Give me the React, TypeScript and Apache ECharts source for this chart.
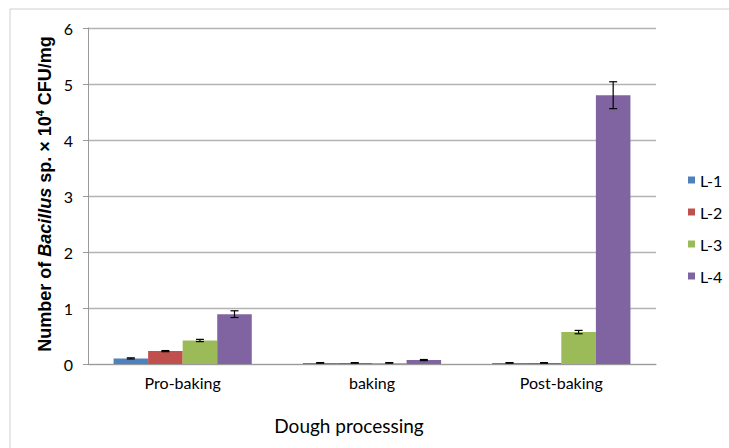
import React, { useEffect, useRef } from "react";
import * as echarts from "echarts";

const categories = ["Pro-baking", "baking", "Post-baking"];
const seriesNames = ["L-1", "L-2", "L-3", "L-4"];
const L1 = [0.1, 0.02, 0.02];
const L2 = [0.23, 0.02, 0.02];
const L3 = [0.42, 0.02, 0.57];
const L4 = [0.89, 0.07, 4.8];
const L1err = [0.01, 0.005, 0.005];
const L2err = [0.01, 0.005, 0.005];
const L3err = [0.02, 0.005, 0.03];
const L4err = [0.06, 0.01, 0.24];
const yTicks = [0, 1, 2, 3, 4, 5, 6];

const colors = ["#4F81BD", "#C0504D", "#9BBB59", "#8064A2"];
const FONT = "Lato, 'Noto Sans', sans-serif";
const GAP = 0.27;

export default function App() {
  const ref = useRef<HTMLDivElement>(null);
  useEffect(() => {
    if (!ref.current) return;
    const chart = echarts.init(ref.current, null, { renderer: "svg" });
    const values = [L1, L2, L3, L4];
    const errs = [L1err, L2err, L3err, L4err];
    const barSeries = seriesNames.map((n, i) => ({
      name: n,
      type: "bar",
      data: values[i],
      barGap: "0%",
      barCategoryGap: GAP * 100 + "%",
      itemStyle: { color: colors[i] },
      z: 2,
    }));
    const errSeries = seriesNames.map((n, si) => ({
      name: n + "-err",
      type: "custom",
      data: categories.map((_, ci) => [ci, values[si][ci], errs[si][ci]]),
      encode: { x: 0, y: 1 },
      z: 5,
      renderItem: (params: any, api: any) => {
        const ci = api.value(0);
        const v = api.value(1);
        const e = api.value(2);
        const band = api.size([1, 0])[0];
        const group = band * (1 - GAP);
        const bw = group / 4;
        const c = api.coord([ci, v]);
        const x = c[0] - group / 2 + (si + 0.5) * bw;
        const top = api.coord([ci, v + e])[1];
        const bot = api.coord([ci, v - e])[1];
        const style = { stroke: "#000", lineWidth: 1.2 };
        const cap = 4;
        return {
          type: "group",
          children: [
            { type: "line", shape: { x1: x, y1: top, x2: x, y2: bot }, style },
            { type: "line", shape: { x1: x - cap, y1: top, x2: x + cap, y2: top }, style },
            { type: "line", shape: { x1: x - cap, y1: bot, x2: x + cap, y2: bot }, style },
          ],
        };
      },
    }));
    chart.setOption({
      animation: false,
      color: colors,
      textStyle: { fontFamily: FONT },
      grid: { left: 88, right: 73, top: 28, bottom: 84 },
      legend: {
        orient: "vertical",
        left: 683,
        top: 167,
        data: seriesNames,
        icon: "rect",
        itemWidth: 7,
        itemHeight: 7,
        itemGap: 16,
        textStyle: { fontFamily: FONT, fontSize: 16, color: "#000" },
        selectedMode: false,
      },
      xAxis: {
        type: "category",
        data: categories,
        axisLine: { lineStyle: { color: "#9a9a9a", width: 1.2 } },
        axisTick: { show: false },
        axisLabel: { fontFamily: FONT, fontSize: 16, color: "#000", margin: 10 },
      },
      yAxis: {
        type: "value",
        min: 0,
        max: 6,
        interval: 1,
        axisLine: { show: true, lineStyle: { color: "#9a9a9a", width: 1 } },
        axisTick: { show: true, length: 5, lineStyle: { color: "#9a9a9a" } },
        axisLabel: {
          fontFamily: FONT,
          fontSize: 16,
          color: "#000",
          margin: 15,
          formatter: (v: number) => (yTicks.includes(v) ? String(v) : ""),
        },
        splitLine: { lineStyle: { color: "#b3b3b3", width: 1.3 } },
      },
      graphic: [
        {
          type: "rect",
          shape: { x: 10, y: 9, width: 740, height: 460 },
          style: { fill: "none", stroke: "#d0d0d0", lineWidth: 1 },
          silent: true,
        },
        {
          type: "text",
          x: 349,
          y: 425,
          style: {
            text: "Dough processing",
            align: "center",
            verticalAlign: "middle",
            fontFamily: FONT,
            fontSize: 19,
            fill: "#000",
          },
        },
        {
          type: "text",
          x: 45,
          y: 194,
          rotation: Math.PI / 2,
          style: {
            text: "{b|Number of }{i|Bacillus}{b| sp. × 10}{s|4}{b| CFU/mg}",
            align: "center",
            verticalAlign: "middle",
            rich: {
              b: { fontFamily: "'Liberation Sans', Arial, sans-serif", fontWeight: "bold", fontSize: 18, fill: "#000", lineHeight: 21 },
              i: { fontFamily: "'Liberation Sans', Arial, sans-serif", fontWeight: "bold", fontStyle: "italic", fontSize: 18, fill: "#000", lineHeight: 21 },
              s: { fontFamily: "'Liberation Sans', Arial, sans-serif", fontWeight: "bold", fontSize: 11, fill: "#000", verticalAlign: "top", lineHeight: 21 },
            },
          },
        },
      ],
      series: [...barSeries, ...errSeries],
    });
    return () => chart.dispose();
  }, []);
  return <div ref={ref} style={{ position: "absolute", left: 0, top: 0, width: 729, height: 448 }} />;
}
